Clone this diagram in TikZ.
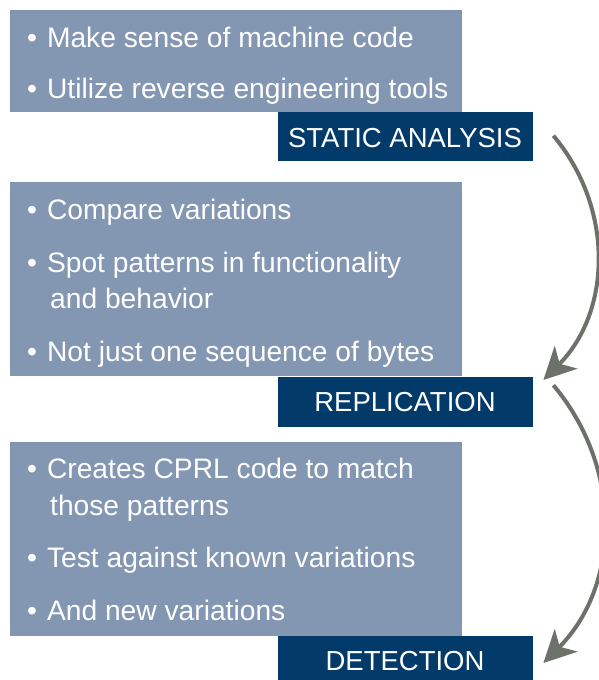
\documentclass[tikz,border=0pt]{standalone}
\usepackage{fontspec}
\setmainfont{Liberation Sans}
\usetikzlibrary{arrows.meta}
\definecolor{lightbox}{RGB}{131,150,178}
\definecolor{darkbox}{RGB}{2,58,105}
\definecolor{arrowgray}{RGB}{108,113,105}
\newcommand{\blt}{\textbullet\hspace{10pt}}
\tikzset{
  panel/.style={fill=lightbox, draw=none, anchor=north west, inner sep=0pt},
  tag/.style={fill=darkbox, draw=none, anchor=north west, inner sep=0pt, minimum width=255pt},
  item/.style={text=white, anchor=base west, inner sep=0pt, font=\fontsize{28.2}{33}\selectfont},
  tagtext/.style={text=white, anchor=base, inner sep=0pt, font=\fontsize{27.5}{32}\selectfont},
  flow/.style={draw=arrowgray, line width=4pt, -{Stealth[length=32pt, width=32pt, inset=9pt]}}
}
\begin{document}
\begin{tikzpicture}[x=1pt, y=-1pt]
\useasboundingbox (0,0) rectangle (598,680);
% panels
\node[panel, minimum width=452pt, minimum height=102pt] (p1) at (10,10) {};
\node[panel, minimum width=452pt, minimum height=194pt] (p2) at (10,182) {};
\node[panel, minimum width=452pt, minimum height=194pt] (p3) at (10,442) {};
% tags
\node[tag, minimum height=49pt] (t1) at (278,112) {};
\node[tag, minimum height=50pt] (t2) at (278,377) {};
\node[tag, minimum height=44pt] (t3) at (278,636) {};
\node[tagtext] (l1) at (405,147) {STATIC ANALYSIS};
\node[tagtext] (l2) at (405,411) {REPLICATION};
\node[tagtext] (l3) at (405,670) {DETECTION};
% items
\node[item] (a1) at (27,47) {\blt Make sense of machine code};
\node[item] (a2) at (27,98) {\blt Utilize reverse engineering tools};
\node[item] (b1) at (27,219) {\blt Compare variations};
\node[item] (b2) at (27,272) {\blt Spot patterns in functionality};
\node[item] (b2b) at (50,308) {and behavior};
\node[item] (b3) at (27,361) {\blt Not just one sequence of bytes};
\node[item] (c1) at (27,478) {\blt Creates CPRL code to match};
\node[item] (c1b) at (50,515) {those patterns};
\node[item] (c2) at (27,567) {\blt Test against known variations};
\node[item] (c3) at (27,620) {\blt And new variations};
% arrows
\coordinate (s1) at ([xshift=20pt, yshift=1pt]t1.east);
\coordinate (e1) at ([xshift=10pt, yshift=-3pt]t2.north east);
\coordinate (s2) at ([xshift=20pt, yshift=17pt]t2.east);
\coordinate (e2) at ([xshift=10pt, yshift=-27pt]t3.north east);
\draw[flow] (s1) to[out=-50, in=45] (e1);
\draw[flow] (s2) to[out=-50, in=45] (e2);
\end{tikzpicture}
\end{document}
